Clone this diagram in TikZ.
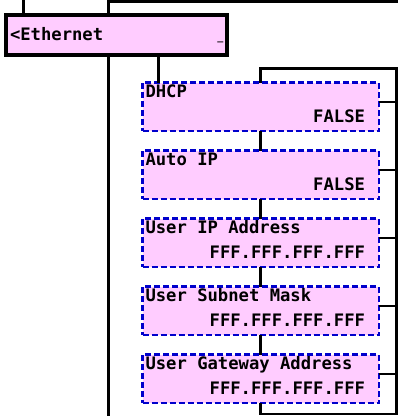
\documentclass[tikz,border=0pt]{standalone}
\usepackage{fontspec}
\newfontfamily\monob{DejaVu Sans Mono}[BoldFont=* Bold]
\definecolor{boxpink}{HTML}{FFCCFF}
\definecolor{dashblue}{HTML}{0000CC}
\begin{document}
\begin{tikzpicture}[x=1pt,y=-1pt,
  conn/.style={line width=2.7pt,black},
  mainbox/.style={draw=black,line width=4pt,fill=boxpink,rectangle,inner sep=0pt,outer sep=0pt,minimum width=220.5pt,minimum height=40pt,anchor=north west},
  itembox/.style={draw=dashblue,line width=2.2pt,dash pattern=on 6pt off 3pt,fill=boxpink,rectangle,inner sep=0pt,outer sep=0pt,minimum width=236.5pt,minimum height=48.5pt,anchor=north west},
  lbl/.style={inner sep=0pt,outer sep=0pt,font=\monob\bfseries\fontsize{17.2}{19}\selectfont},
]
\useasboundingbox (0,0) rectangle (398,416);
\fill[white] (0,0) rectangle (398,416);

% coordinates
\coordinate (top23) at (23.3,0);
\coordinate (top108) at (108.7,0);
\coordinate (topR) at (398,1.3);
\coordinate (bot108) at (108.7,416);
\coordinate (c158) at (158.3,0);
\coordinate (loopTL) at (260.75,68.7);
\coordinate (loopTR) at (396.5,68.7);
\coordinate (loopBR) at (396.5,414);
\coordinate (loopBL) at (260.75,414);

% Ethernet box
\node[mainbox] (eth) at (6,15) {};
\node[lbl,anchor=base west] (ethtxt) at (10,40.5) {<Ethernet};
\node[lbl,anchor=base east,font=\monob\bfseries\fontsize{10}{12}\selectfont] (ethcur) at (223.5,40.5) {\_};

% item boxes
\node[itembox] (dhcp) at (142.5,82.5) {};
\node[itembox] (auto) at (142.5,150.5) {};
\node[itembox] (uip) at (142.5,218.5) {};
\node[itembox] (usm) at (142.5,286.5) {};
\node[itembox] (ugw) at (142.5,354.5) {};

\foreach \b/\t/\v in {dhcp/DHCP/FALSE, auto/Auto IP/FALSE, uip/User IP Address/FFF.FFF.FFF.FFF, usm/User Subnet Mask/FFF.FFF.FFF.FFF, ugw/User Gateway Address/FFF.FFF.FFF.FFF}{
  \node[lbl,anchor=base west] (\b-t) at ([xshift=3pt,yshift=-15.3pt]\b.north west) {\t};
  \node[lbl,anchor=base east] (\b-v) at ([xshift=-14pt,yshift=-39.8pt]\b.north east) {\v};
}

% connectors
\draw[conn] (top23) -- (eth.north -| top23);
\draw[conn] (top108) -- (eth.north -| top108);
\draw[conn] (top108 |- topR) -- (topR);
\draw[conn] (eth.south -| bot108) -- (bot108);
\draw[conn] (eth.south -| c158) -- (dhcp.north -| c158);

\draw[conn] (dhcp.north) -- (loopTL) -- (loopTR) -- (loopBR) -- (loopBL) -- (ugw.south);
\draw[conn] (dhcp.south) -- (auto.north);
\draw[conn] (auto.south) -- (uip.north);
\draw[conn] (uip.south) -- (usm.north);
\draw[conn] (usm.south) -- (ugw.north);

\foreach \b in {dhcp,auto,uip,usm,ugw}{
  \draw[conn] ([yshift=-19.5pt]\b.north east) -- ([yshift=-19.5pt]\b.north east -| loopTR);
}
\end{tikzpicture}
\end{document}
